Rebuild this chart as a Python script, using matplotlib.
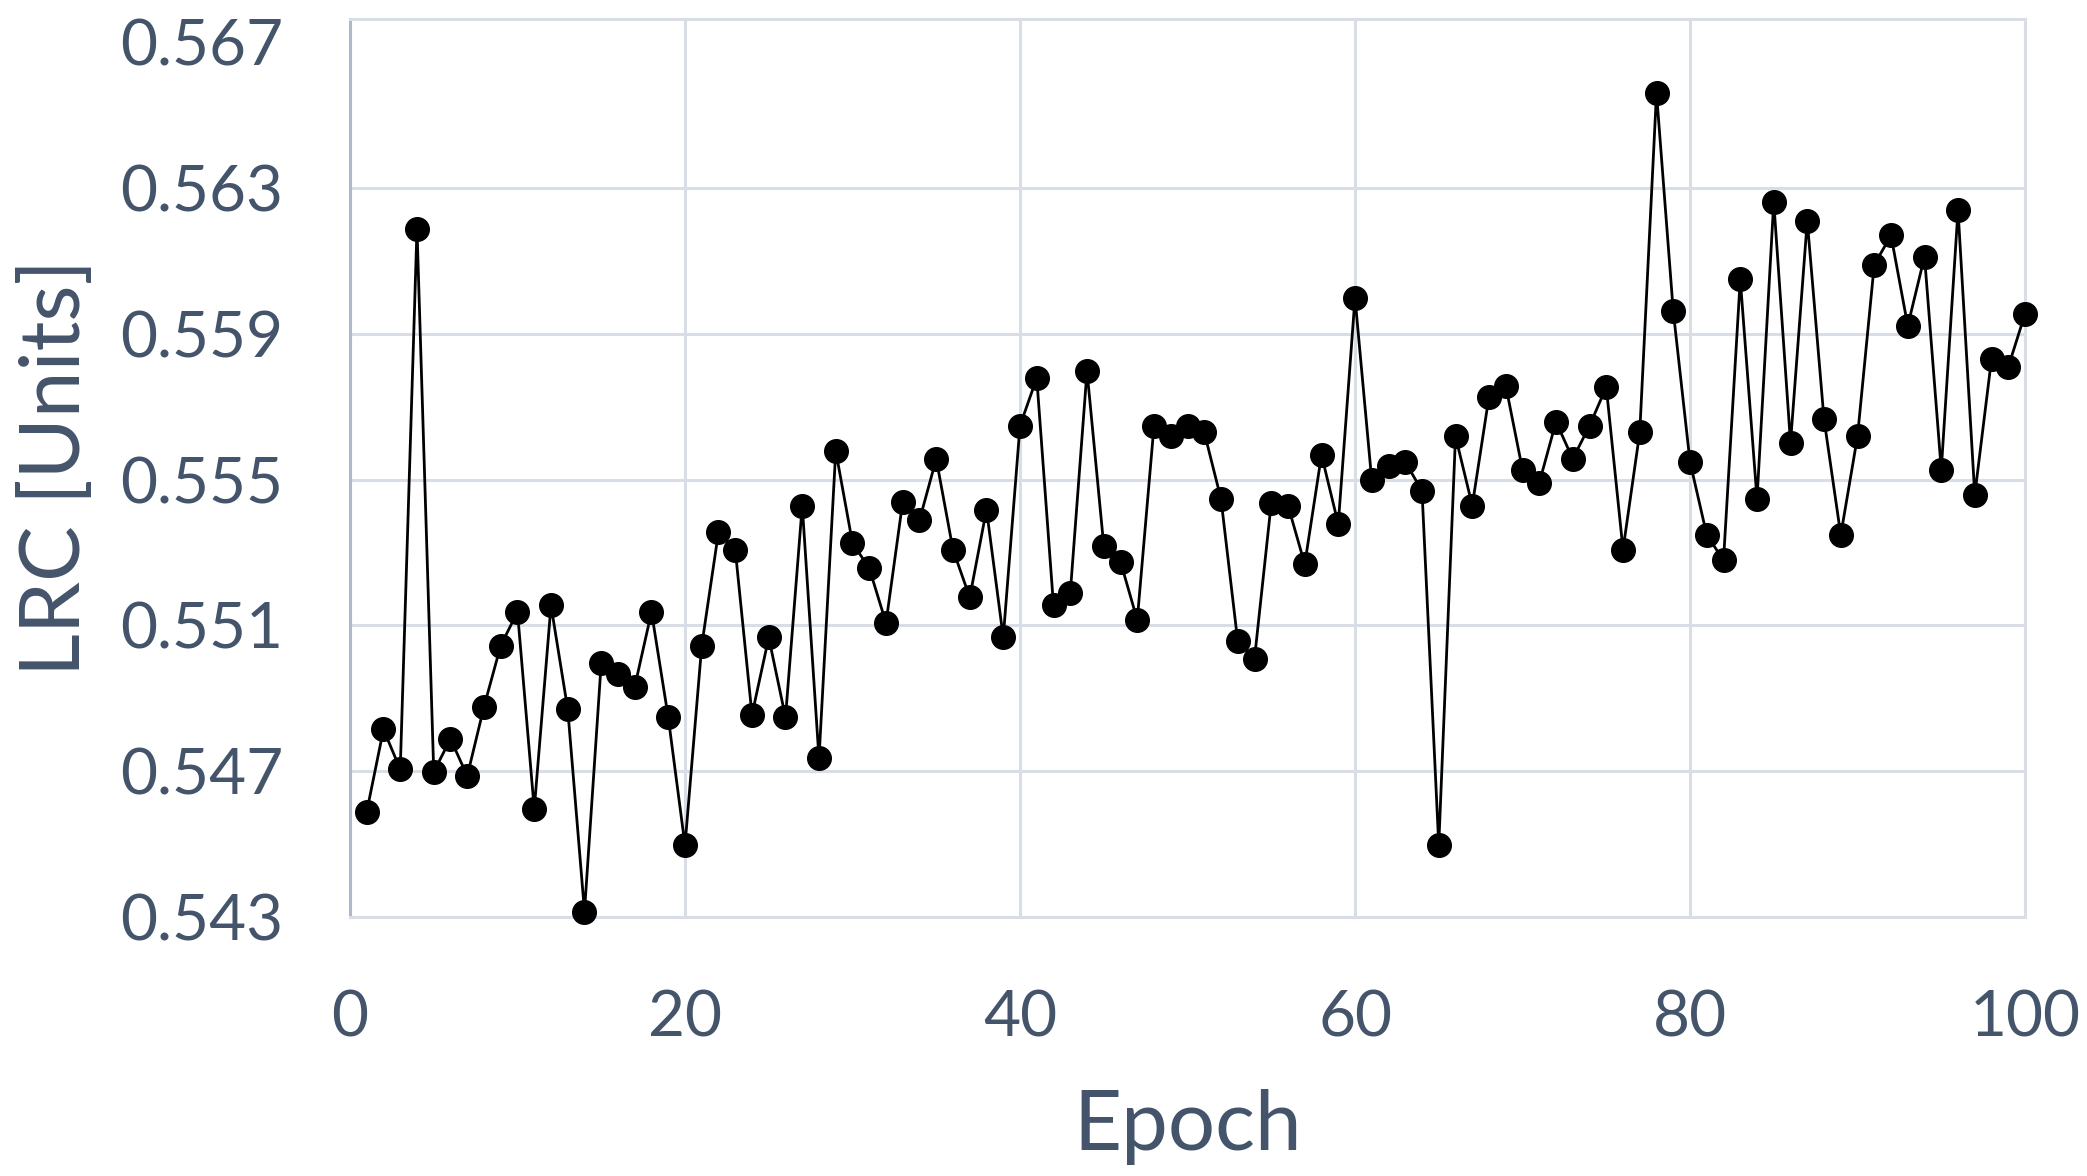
import numpy as np
import matplotlib
matplotlib.use('Agg')
from matplotlib import pyplot as plt

plt.rcParams['font.family'] = ['Lato', 'DejaVu Sans']

epoch = np.arange(1, 101)
lrc = [0.54589, 0.54815, 0.54705, 0.56189, 0.54698, 0.54789, 0.54687, 0.54877, 0.55045, 0.55137,
       0.54596, 0.55155, 0.54870, 0.54315, 0.54998, 0.54968, 0.54932, 0.55137, 0.54848, 0.54497,
       0.55045, 0.55356, 0.55308, 0.54855, 0.55067, 0.54848, 0.55429, 0.54735, 0.55579, 0.55326,
       0.55257, 0.55107, 0.55440, 0.55389, 0.55557, 0.55308, 0.55177, 0.55418, 0.55067, 0.55648,
       0.55779, 0.55155, 0.55188, 0.55798, 0.55319, 0.55275, 0.55115, 0.55648, 0.55619, 0.55648,
       0.55630, 0.55447, 0.55056, 0.55009, 0.55436, 0.55429, 0.55268, 0.55568, 0.55378, 0.55999,
       0.55498, 0.55538, 0.55549, 0.55469, 0.54497, 0.55619, 0.55429, 0.55728, 0.55758, 0.55527,
       0.55491, 0.55659, 0.55557, 0.55648, 0.55754, 0.55308, 0.55630, 0.56561, 0.55962, 0.55549,
       0.55348, 0.55279, 0.56050, 0.55447, 0.56262, 0.55601, 0.56210, 0.55666, 0.55348, 0.55619,
       0.56090, 0.56170, 0.55922, 0.56112, 0.55527, 0.56240, 0.55458, 0.55831, 0.55809, 0.55955]

xticks = [0, 20, 40, 60, 80, 100]
yticks = [0.543, 0.547, 0.551, 0.555, 0.559, 0.563, 0.567]

text_col = '#44546A'
grid_col = '#D9DEE6'

fig = plt.figure(figsize=(20.87, 11.76), dpi=100)
ax = fig.add_axes([0.1677, 0.2202, 0.8026, 0.764])

ax.plot(epoch, lrc, color='black', lw=2.0, marker='o', ms=17, zorder=3, clip_on=False)

ax.set_xlim(0, 100)
ax.set_ylim(0.543, 0.56765)
ax.set_xticks(xticks)
ax.set_yticks(yticks)
ax.set_yticklabels(['%.3f' % v for v in yticks])
ax.grid(True, color=grid_col, lw=2.2, zorder=0)
# no gridline at the last label, the top border takes its place
ax.yaxis.get_major_ticks()[-1].gridline.set_visible(False)

for s in ['top', 'right', 'bottom']:
    ax.spines[s].set_color(grid_col)
    ax.spines[s].set_linewidth(2.2)
ax.spines['left'].set_color('#ADB9CA')
ax.spines['left'].set_linewidth(2.2)

ax.tick_params(axis='both', length=0, labelsize=46, labelcolor=text_col)
ax.tick_params(axis='x', pad=52)
ax.tick_params(axis='y', pad=48)

ax.set_xlabel('Epoch', fontsize=60, color=text_col, labelpad=30)
ax.set_ylabel('LRC [Units]', fontsize=60, color=text_col, labelpad=18)

fig.savefig('out.png', dpi=100)
